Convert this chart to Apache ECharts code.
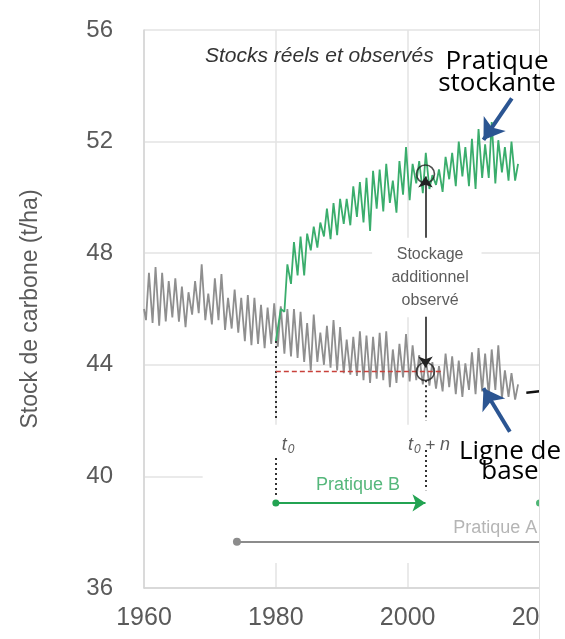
<!DOCTYPE html>
<html>
<head>
<meta charset="utf-8">
<script src="https://cdn.jsdelivr.net/npm/echarts@6/dist/echarts.min.js"></script>
<style>
html,body{margin:0;padding:0;background:#fff;overflow:hidden;width:565px;height:639px;}
#main{width:565px;height:639px;}
</style>
</head>
<body>
<div id="main"></div>
<script>
// ---------- data ----------
const yTicks = [36, 40, 44, 48, 52, 56];
const xTicks = [1960, 1980, 2000, 2020];

// Baseline ("Ligne de base"), one trough and one peak per year, 1960-2016
const baseStartYear = 1960;
const baseStartValue = 46.0;
const baseTroughs = [45.6,45.5,45.4,45.55,45.7,45.55,45.35,45.8,45.85,45.6,
  45.45,45.6,45.25,45.3,45.15,44.85,44.7,44.75,44.6,44.75,
  44.65,44.4,44.3,44.25,44.1,43.8,44.1,44.0,43.9,43.8,
  43.7,43.65,43.6,43.45,43.35,43.5,43.45,43.2,43.35,43.55,
  43.4,43.45,43.3,43.25,43.15,43.05,43.2,42.95,42.85,43.1,
  42.95,43.05,42.9,43.1,42.8,42.85,42.75];
const basePeaks = [47.3,47.5,47.3,47.0,47.1,46.8,46.6,47.0,47.6,46.55,
  47.1,47.25,46.4,46.7,46.4,46.5,46.4,46.15,46.05,46.2,
  46.1,46.0,46.0,45.9,45.5,45.8,45.15,45.4,45.6,45.35,
  44.9,45.0,45.2,45.05,45.0,45.15,45.2,44.55,44.75,45.1,
  44.7,44.35,44.2,44.1,43.95,44.4,44.3,44.15,44.05,44.45,
  44.6,44.4,44.55,44.7,43.8,43.7,43.3];

// Storing practice ("Pratique stockante"), 1980-2016
const practStartYear = 1980;
const practStartValue = 44.85;
const practTroughs = [45.3,45.9,46.9,47.2,47.2,48.1,48.2,48.6,48.5,48.65,
  49.05,49.0,49.3,49.1,48.8,49.6,49.5,49.8,49.45,50.1,
  49.9,50.5,50.15,50.3,50.45,50.2,50.65,50.4,50.75,50.4,
  50.3,50.7,50.7,50.5,50.9,50.6,50.6];
const practPeaks = [46.0,47.6,48.4,48.6,48.7,48.95,49.1,49.6,49.8,49.95,
  49.95,50.4,50.55,50.7,50.95,51.0,51.2,50.6,51.3,51.8,
  51.2,51.3,51.6,50.8,51.0,51.45,51.6,52.0,51.8,52.1,
  52.45,51.9,52.7,52.05,51.8,52.0,51.2];

// annotation values
const t0Year = 1980;
const tnYear = 2002.7;
const observedPractice = 50.84;
const observedBase = 43.76;
const refLevel = 43.78;
const refLevelEnd = 2005.2;
const practiceALevel = 37.66;
const practiceAStart = 1974.1;
const practiceBLevel = 39.05;

// ---------- build ----------
function zigzag(startYear, startValue, troughs, peaks) {
  const pts = [[startYear, startValue]];
  troughs.forEach(function (t, i) {
    pts.push([startYear + i + 0.3, t]);
    pts.push([startYear + i + 0.75, peaks[i]]);
  });
  return pts;
}
const baseData = zigzag(baseStartYear, baseStartValue, baseTroughs, basePeaks);
const practData = zigzag(practStartYear, practStartValue, practTroughs, practPeaks);

const FONT = 'Liberation Sans';
const chart = echarts.init(document.getElementById('main'), null, { width: 565, height: 639 });

const option = {
  animation: false,
  textStyle: { fontFamily: FONT },
  title: {
    text: 'Stocks réels et observés',
    left: 200, top: 41,
    textStyle: { fontFamily: FONT, fontStyle: 'italic', fontWeight: 'normal', fontSize: 21, color: '#333' }
  },
  grid: { left: 144, top: 30, width: 395.5, height: 558, containLabel: false, outerBoundsMode: 'none' },
  xAxis: {
    type: 'value', min: xTicks[0], max: xTicks[xTicks.length - 1], interval: 20,
    axisLine: { show: true, lineStyle: { color: '#d4d4d4', width: 1.5 } },
    axisTick: { show: false },
    axisLabel: { fontSize: 25, color: '#5a5a5a', margin: 18, fontFamily: FONT,
      formatter: function (v) { return String(v); } },
    splitLine: { show: true, lineStyle: { color: '#e3e3e3', width: 1.5 } }
  },
  yAxis: {
    type: 'value', min: yTicks[0], max: yTicks[yTicks.length - 1], interval: 4,
    name: 'Stock de carbone (t/ha)', nameLocation: 'middle', nameGap: 102,
    nameTextStyle: { fontSize: 23, color: '#5a5a5a', fontFamily: FONT },
    axisLine: { show: true, lineStyle: { color: '#d4d4d4', width: 1.5 } },
    axisTick: { show: false },
    axisLabel: { fontSize: 24, color: '#5a5a5a', margin: 31, fontFamily: FONT },
    splitLine: { show: true, lineStyle: { color: '#e3e3e3', width: 1.5 } }
  },
  series: [
    { // white backgrounds behind annotation blocks (hide grid lines)
      type: 'line', z: 1, data: [], silent: true,
      markArea: {
        silent: true,
        itemStyle: { color: '#ffffff', opacity: 1 },
        data: [
          [{ coord: [1994.6, 48.55] }, { coord: [2011.2, 45.7] }],
          [{ coord: [1968.9, 41.85] }, { coord: [2020, 36.9] }]
        ]
      }
    },
    {
      name: 'Ligne de base', type: 'line', z: 3, data: baseData, showSymbol: false,
      lineStyle: { color: '#8f8f8f', width: 1.8 }
    },
    {
      name: 'Pratique stockante', type: 'line', z: 4, data: practData, showSymbol: false,
      lineStyle: { color: '#3aad6c', width: 1.8 }
    },
    { // dotted verticals at t0 and t0+n
      type: 'lines', coordinateSystem: 'cartesian2d', z: 5, silent: true,
      symbol: 'none',
      lineStyle: { color: '#333', width: 2, type: [2, 3], opacity: 1 },
      data: [
        { coords: [[t0Year, practStartValue], [t0Year, 42.0]] },
        { coords: [[t0Year, 40.66], [t0Year, 39.25]] },
        { coords: [[tnYear, 43.45], [tnYear, 42.0]] },
        { coords: [[tnYear, 40.95], [tnYear, 39.5]] }
      ]
    },
    { // red dashed reference
      type: 'lines', coordinateSystem: 'cartesian2d', z: 5, silent: true,
      symbol: 'none',
      lineStyle: { color: '#c8413b', width: 1.3, type: [5, 3], opacity: 1 },
      data: [{ coords: [[t0Year, refLevel], [refLevelEnd, refLevel]] }]
    },
    { // black arrows "stockage additionnel"
      type: 'lines', coordinateSystem: 'cartesian2d', z: 6, silent: true,
      symbol: ['none', 'arrow'], symbolSize: 11,
      lineStyle: { color: '#222', width: 1.6, opacity: 1 },
      data: [
        { coords: [[tnYear, 48.55], [tnYear, 50.75]] },
        { coords: [[tnYear, 45.72], [tnYear, 43.9]] }
      ]
    },
    { // Pratique B arrow
      type: 'lines', coordinateSystem: 'cartesian2d', z: 6, silent: true,
      symbol: ['circle', 'arrow'], symbolSize: [7, 13],
      lineStyle: { color: '#23a352', width: 2, opacity: 1 },
      data: [{ coords: [[t0Year, practiceBLevel], [tnYear, practiceBLevel]] }]
    },
    { // Pratique A line
      type: 'lines', coordinateSystem: 'cartesian2d', z: 6, silent: true,
      symbol: ['circle', 'none'], symbolSize: [8, 1],
      lineStyle: { color: '#8c8c8c', width: 2, opacity: 1 },
      data: [{ coords: [[practiceAStart, practiceALevel], [2020, practiceALevel]] }]
    },
    { // blue callout arrows
      type: 'lines', coordinateSystem: 'cartesian2d', z: 7, silent: true,
      symbol: ['none', 'arrow'], symbolSize: 20,
      lineStyle: { color: '#2b5592', width: 4, opacity: 1 },
      data: [
        { coords: [[2015.8, 53.55], [2011.5, 52.06]] },
        { coords: [[2015.5, 41.6], [2011.5, 43.16]] }
      ]
    },
    { // black short stroke at the right edge
      type: 'lines', coordinateSystem: 'cartesian2d', z: 6, silent: true,
      symbol: 'none',
      lineStyle: { color: '#111', width: 2.5, opacity: 1 },
      data: [{ coords: [[2018.0, 43.0], [2020, 43.05]] }]
    },
    { // open circles
      type: 'scatter', z: 8, silent: true, symbol: 'circle', symbolSize: 18,
      itemStyle: { color: 'rgba(255,255,255,0)', borderColor: '#222', borderWidth: 1.6 },
      data: [[tnYear, observedPractice], [tnYear, observedBase]]
    },
    { // green dot of next practice (cut by frame)
      type: 'scatter', z: 8, silent: true, symbolSize: 7,
      itemStyle: { color: '#23a352' },
      data: [[2020, practiceBLevel]]
    },
    { // text annotations
      type: 'scatter', z: 9, silent: true, symbolSize: 0,
      label: { show: true, position: [0, 0], fontFamily: FONT },
      data: [
        { value: [2003.4, 47.13], label: {
            formatter: 'Stockage\nadditionnel\nobservé', align: 'center', verticalAlign: 'middle',
            fontSize: 16, lineHeight: 23, color: '#333' } },
        { value: [1980.9, 41.13], label: {
            formatter: '{t|t}{s|0}', align: 'left', verticalAlign: 'middle',
            rich: { t: { fontSize: 18, fontStyle: 'italic', color: '#333', fontFamily: FONT },
                    s: { fontSize: 12, fontStyle: 'italic', color: '#333', padding: [10, 0, 0, 1], fontFamily: FONT } } } },
        { value: [2000.06, 41.13], label: {
            formatter: '{t|t}{s|0}{o| + }{t|n}', align: 'left', verticalAlign: 'middle',
            rich: { t: { fontSize: 18, fontStyle: 'italic', color: '#333', fontFamily: FONT },
                    s: { fontSize: 12, fontStyle: 'italic', color: '#333', padding: [10, 0, 0, 1], fontFamily: FONT },
                    o: { fontSize: 17, color: '#333', fontFamily: FONT } } } },
        { value: [1992.47, 39.69], label: {
            formatter: 'Pratique B', align: 'center', verticalAlign: 'middle',
            fontSize: 18, color: '#2aa55a' } },
        { value: [2006.9, 38.15], label: {
            formatter: 'Pratique A', align: 'left', verticalAlign: 'middle',
            fontSize: 18, color: '#a3a3a3' } }
      ]
    }
  ],
  graphic: [
    { type: 'rect', z: 100, silent: true, shape: { x: 540, y: 0, width: 25, height: 639 }, style: { fill: '#ffffff' } },
    { type: 'line', z: 101, silent: true, shape: { x1: 539.5, y1: 0, x2: 539.5, y2: 639 }, style: { stroke: '#dedede', lineWidth: 1 } },
    { type: 'text', z: 102, silent: true, x: 497, y: 73,
      style: { text: 'Pratique\nstockante', font: '26px "Open Sans"', fill: '#000', align: 'center', verticalAlign: 'middle', lineHeight: 22 } },
    { type: 'text', z: 102, silent: true, x: 510, y: 462,
      style: { text: 'Ligne de\nbase', font: '26px "Open Sans"', fill: '#000', align: 'center', verticalAlign: 'middle', lineHeight: 20 } }
  ]
};
chart.setOption(option);
</script>
</body>
</html>
